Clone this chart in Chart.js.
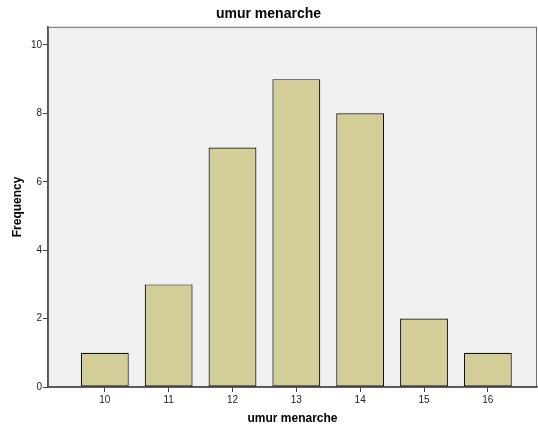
<!DOCTYPE html>
<html>
<head>
<meta charset="utf-8">
<script src="https://cdn.jsdelivr.net/npm/chart.js@4"></script>
<style>
  html, body { margin: 0; padding: 0; background: #fff; }
  #wrap { width: 538px; height: 425px; }
</style>
</head>
<body>
<div id="wrap"><canvas id="chart"></canvas></div>
<script>
const ages = [10, 11, 12, 13, 14, 15, 16];
const frequencies = [1, 3, 7, 9, 8, 2, 1];
const yTicks = [0, 2, 4, 6, 8, 10];

// draws the gray plot background and its frame
const plotBackground = {
  id: "plotBackground",
  beforeDraw(chart) {
    const { ctx, chartArea: a } = chart;
    ctx.save();
    ctx.fillStyle = "#f0f0f0";
    ctx.fillRect(a.left, a.top, a.right - a.left, a.bottom - a.top);
    ctx.strokeStyle = "#6e6e6e";
    ctx.lineWidth = 1;
    ctx.strokeRect(a.left + 0.5, a.top + 0.5, a.right - a.left - 1, a.bottom - a.top);
    ctx.restore();
  }
};

const ctx = document.getElementById("chart").getContext("2d");
new Chart(ctx, {
  type: "bar",
  data: {
    datasets: [{
      label: "Frequency",
      data: ages.map((a, i) => ({ x: a, y: frequencies[i] })),
      backgroundColor: "#d3ce97",
      borderColor: "#111",
      borderWidth: 1.2,
      borderSkipped: false,
      categoryPercentage: 1,
      barPercentage: 0.75
    }]
  },
  options: {
    responsive: true,
    maintainAspectRatio: false,
    animation: false,
    layout: { padding: { left: 0, right: 1, top: 0, bottom: 0 } },
    plugins: {
      legend: { display: false },
      tooltip: { enabled: false },
      title: {
        display: true,
        text: "umur menarche",
        color: "#000",
        font: { family: "Arial, 'Liberation Sans', sans-serif", size: 14, weight: "bold" },
        padding: { top: 6, bottom: 4 }
      }
    },
    scales: {
      x: {
        type: "linear",
        offset: false,
        min: 9.11,
        max: 16.77,
        afterBuildTicks: s => { s.ticks = ages.map(v => ({ value: v })); },
        afterFit: s => { s.height = 38; },
        grid: { display: true, offset: false, drawOnChartArea: false, drawTicks: true, tickLength: 5, color: "#444" },
        border: { display: true, color: "#555", width: 1.5 },
        ticks: {
          color: "#222",
          padding: 2,
          font: { family: "Arial, 'Liberation Sans', sans-serif", size: 10 }
        },
        title: {
          display: true,
          text: "umur menarche",
          color: "#000",
          font: { family: "Arial, 'Liberation Sans', sans-serif", size: 12, weight: "bold", lineHeight: 1 },
          padding: { top: 4, bottom: 0 }
        }
      },
      y: {
        min: 0,
        max: 10.53,
        afterBuildTicks: s => { s.ticks = yTicks.map(v => ({ value: v })); },
        afterFit: s => { s.width = 48; },
        grid: { display: true, drawOnChartArea: false, drawTicks: true, tickLength: 5, color: "#444" },
        border: { display: true, color: "#555", width: 1.5 },
        ticks: {
          color: "#222",
          padding: 1,
          font: { family: "Arial, 'Liberation Sans', sans-serif", size: 10 }
        },
        title: {
          display: true,
          text: "Frequency",
          color: "#000",
          font: { family: "Arial, 'Liberation Sans', sans-serif", size: 12, weight: "bold" },
          padding: { top: 10, bottom: 0 }
        }
      }
    }
  },
  plugins: [plotBackground]
});
</script>
</body>
</html>
